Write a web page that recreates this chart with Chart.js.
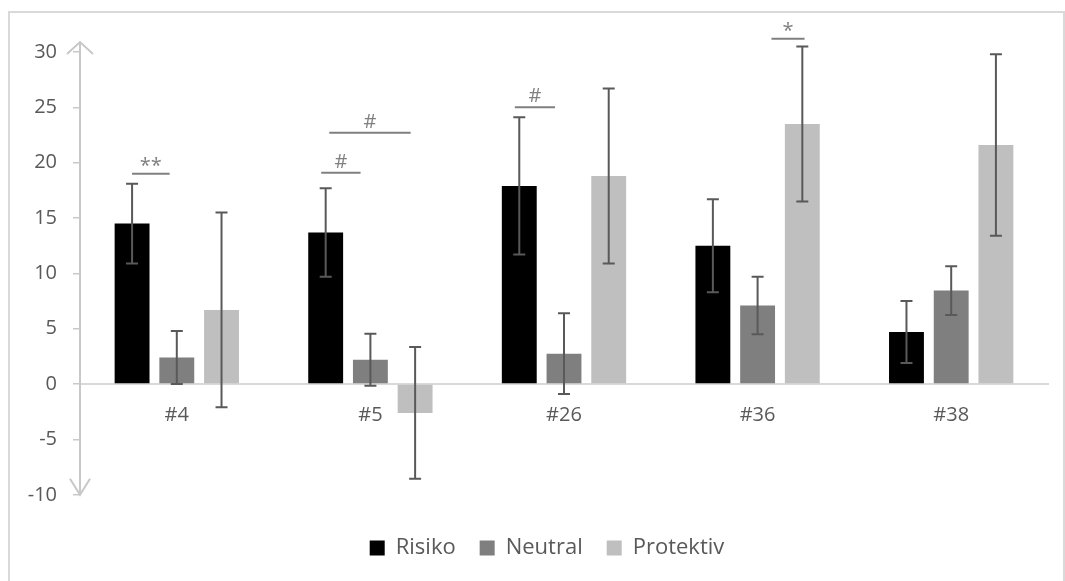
<!DOCTYPE html>
<html>
<head>
<meta charset="utf-8">
<script src="https://cdn.jsdelivr.net/npm/chart.js@4.4.0/dist/chart.umd.min.js"></script>
<style>
  body { margin: 0; background: #fff; }
  canvas { display: block; }
</style>
</head>
<body>
<canvas id="chart" width="1065" height="581"></canvas>
<script>
const categories = ['#4', '#5', '#26', '#36', '#38'];
const seriesNames = ['Risiko', 'Neutral', 'Protektiv'];
const risiko = [14.5, 13.7, 17.9, 12.5, 4.7];
const risikoErr = [3.6, 4.0, 6.2, 4.2, 2.8];
const neutral = [2.4, 2.2, 2.75, 7.1, 8.45];
const neutralErr = [2.4, 2.35, 3.65, 2.6, 2.2];
const protektiv = [6.7, -2.6, 18.8, 23.5, 21.6];
const protektivErr = [8.8, 5.95, 7.9, 7.0, 8.2];
const yMin = -10;
const yMax = 30;
const yStep = 5;

// significance marks: category, span in bar units (0 = Risiko bar, 1 = Neutral, 2 = Protektiv), height, label
const sigCategory = [0, 1, 1, 2, 3];
const sigFrom = [0, -0.1, 0.08, -0.1, 1.31];
const sigTo = [0.84, 0.78, 1.9, 0.8, 2.05];
const sigLevel = [19.0, 19.1, 22.7, 25.0, 31.2];
const sigLabel = ['**', '#', '#', '#', '*'];

const errors = [risikoErr, neutralErr, protektivErr];
const fontFamily = "'Open Sans', sans-serif";

const decorations = {
  id: 'decorations',
  afterLayout(chart) {
    // legend sits a bit right of the canvas centre
    chart.legend.left += 36;
  },
  beforeDraw(chart) {
    const ctx = chart.ctx;
    ctx.save();
    ctx.strokeStyle = '#d9d9d9';
    ctx.lineWidth = 2;
    ctx.strokeRect(9, 12, 1055, 620);
    ctx.restore();
  },
  afterDatasetsDraw(chart) {
    const ctx = chart.ctx;
    const y = chart.scales.y;
    ctx.save();
    ctx.strokeStyle = '#595959';
    ctx.lineWidth = 2;
    chart.data.datasets.forEach((ds, di) => {
      const meta = chart.getDatasetMeta(di);
      meta.data.forEach((bar, i) => {
        const v = ds.data[i];
        const e = errors[di][i];
        const top = y.getPixelForValue(v + e);
        const bottom = y.getPixelForValue(v - e);
        ctx.beginPath();
        ctx.moveTo(bar.x, top);
        ctx.lineTo(bar.x, bottom);
        ctx.moveTo(bar.x - 6, top);
        ctx.lineTo(bar.x + 6, top);
        ctx.moveTo(bar.x - 6, bottom);
        ctx.lineTo(bar.x + 6, bottom);
        ctx.stroke();
      });
    });
    ctx.restore();
  },
  afterDraw(chart) {
    const ctx = chart.ctx;
    const y = chart.scales.y;
    const area = chart.chartArea;
    // y axis with arrow heads
    const ax = area.left;
    const yTop = y.getPixelForValue(yMax) - 10;
    const yBottom = y.getPixelForValue(yMin);
    ctx.save();
    ctx.strokeStyle = '#c8c8c8';
    ctx.lineWidth = 2;
    ctx.beginPath();
    ctx.moveTo(ax, yTop);
    ctx.lineTo(ax, yBottom);
    ctx.moveTo(ax - 13, yTop + 12);
    ctx.lineTo(ax, yTop);
    ctx.lineTo(ax + 13, yTop + 12);
    ctx.moveTo(ax - 10, yBottom - 16);
    ctx.lineTo(ax, yBottom);
    ctx.lineTo(ax + 10, yBottom - 16);
    ctx.stroke();

    // significance bars
    const m0 = chart.getDatasetMeta(0);
    const m1 = chart.getDatasetMeta(1);
    ctx.strokeStyle = '#808080';
    ctx.fillStyle = '#808080';
    ctx.lineWidth = 2;
    ctx.font = '20px ' + fontFamily;
    ctx.textAlign = 'center';
    ctx.textBaseline = 'alphabetic';
    sigLabel.forEach((label, k) => {
      const c = sigCategory[k];
      const x0 = m0.data[c].x;
      const step = m1.data[c].x - x0;
      const xa = x0 + sigFrom[k] * step;
      const xb = x0 + sigTo[k] * step;
      const ly = y.getPixelForValue(sigLevel[k]);
      ctx.beginPath();
      ctx.moveTo(xa, ly);
      ctx.lineTo(xb, ly);
      ctx.stroke();
      ctx.fillText(label, (xa + xb) / 2, label.includes('*') ? ly - 2 : ly - 5);
    });
    ctx.restore();
  }
};

new Chart(document.getElementById('chart'), {
  type: 'bar',
  data: {
    labels: categories,
    datasets: [
      { label: seriesNames[0], data: risiko, backgroundColor: '#000000' },
      { label: seriesNames[1], data: neutral, backgroundColor: '#7f7f7f' },
      { label: seriesNames[2], data: protektiv, backgroundColor: '#bfbfbf' }
    ]
  },
  options: {
    responsive: false,
    animation: false,
    datasets: {
      bar: { barPercentage: 0.78, categoryPercentage: 0.693 }
    },
    layout: { padding: { left: 10, right: 17, top: 52, bottom: 12 } },
    scales: {
      x: {
        position: { y: 0 },
        grid: { display: false, drawTicks: false },
        border: { display: true, color: '#d9d9d9', width: 2 },
        ticks: { color: '#595959', font: { family: fontFamily, size: 20 }, padding: 19 }
      },
      y: {
        min: yMin,
        max: yMax,
        ticks: { stepSize: yStep, color: '#595959', font: { family: fontFamily, size: 20 }, padding: 16 },
        grid: { drawOnChartArea: false, drawTicks: true, tickLength: 7, tickColor: '#c8c8c8', lineWidth: 1.5 },
        border: { display: false },
        afterFit(scale) { scale.width = 70; }
      }
    },
    plugins: {
      tooltip: { enabled: false },
      legend: {
        position: 'bottom',
        title: { display: true, text: '', font: { size: 1 }, padding: { top: 17, bottom: 0 } },
        labels: {
          boxWidth: 15,
          boxHeight: 15,
          padding: 24,
          color: '#595959',
          font: { family: fontFamily, size: 22 }
        }
      }
    }
  },
  plugins: [decorations]
});
</script>
</body>
</html>
